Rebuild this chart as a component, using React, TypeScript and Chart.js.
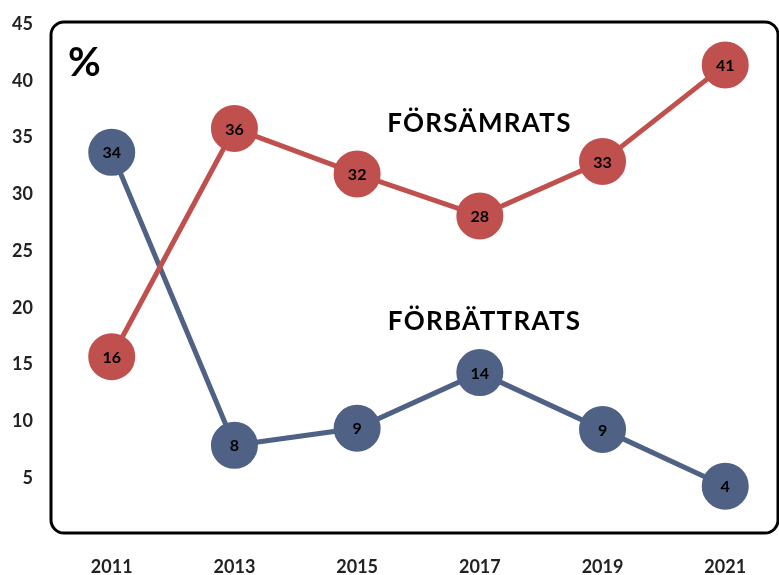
import React, { useEffect, useRef } from "react";
import { Chart, registerables } from "chart.js";

Chart.register(...registerables);

const categories = ["2011", "2013", "2015", "2017", "2019", "2021"];
const worsenedValues = [15.7, 35.8, 31.8, 28.1, 32.9, 41.4];
const improvedValues = [33.7, 7.9, 9.4, 14.3, 9.3, 4.3];
const yTickMin = 0;
const yTickMax = 45;
const yTickStep = 5;
const worsenedLabel = "FÖRSÄMRATS";
const improvedLabel = "FÖRBÄTTRATS";
const unitLabel = "%";

const RED = "#C0504D";
const BLUE = "#4F6184";
const FONT = "Lato, 'Open Sans', sans-serif";

export default function App() {
  const ref = useRef<HTMLCanvasElement>(null);

  useEffect(() => {
    document.body.style.margin = "0";
    const years = categories.map(Number);
    const boxPlugin = {
      id: "boxAndLabels",
      beforeDatasetsDraw(chart: any) {
        const { ctx, chartArea } = chart;
        const { left, top, right, bottom } = chartArea;
        ctx.save();
        ctx.strokeStyle = "#000";
        ctx.lineWidth = 3;
        ctx.beginPath();
        (ctx as any).roundRect(left, top - 2, right - left, bottom - top, 13);
        ctx.stroke();
        ctx.fillStyle = "#000";
        ctx.font = `bold 40px ${FONT}`;
        ctx.textBaseline = "middle";
        ctx.textAlign = "left";
        ctx.fillText(unitLabel, left + 17, top + 39);
        const xs = chart.scales.x;
        const ys = chart.scales.y;
        ctx.font = `bold 26px ${FONT}`;
        (ctx as any).letterSpacing = "1.3px";
        ctx.fillText(worsenedLabel, xs.getPixelForValue(2015.49), ys.getPixelForValue(36.2));
        ctx.fillText(improvedLabel, xs.getPixelForValue(2015.5), ys.getPixelForValue(18.8));
        ctx.restore();
      },
      afterDatasetsDraw(chart: any) {
        const { ctx } = chart;
        ctx.save();
        ctx.fillStyle = "#000";
        ctx.font = `bold 16px ${FONT}`;
        ctx.textAlign = "center";
        ctx.textBaseline = "middle";
        chart.data.datasets.forEach((ds: any, di: number) => {
          const meta = chart.getDatasetMeta(di);
          meta.data.forEach((pt: any, i: number) => {
            ctx.fillText(String(Math.round(ds.data[i].y)), pt.x, pt.y + 1);
          });
        });
        ctx.restore();
      },
    };

    const chart = new Chart(ref.current!, {
      type: "line",
      data: {
        datasets: [
          {
            label: worsenedLabel,
            data: years.map((x, i) => ({ x, y: worsenedValues[i] })),
            borderColor: RED,
            backgroundColor: RED,
            pointBackgroundColor: RED,
            pointBorderColor: RED,
            borderWidth: 5,
            pointRadius: 21,
            pointHoverRadius: 21,
          },
          {
            label: improvedLabel,
            data: years.map((x, i) => ({ x, y: improvedValues[i] })),
            borderColor: BLUE,
            backgroundColor: BLUE,
            pointBackgroundColor: BLUE,
            pointBorderColor: BLUE,
            borderWidth: 5,
            pointRadius: 21,
            pointHoverRadius: 21,
          },
        ],
      },
      options: {
        animation: false,
        responsive: false,
        layout: { autoPadding: false, padding: { top: 24, right: 1, left: 0, bottom: 0 } },
        plugins: { legend: { display: false }, tooltip: { enabled: false } },
        scales: {
          x: {
            type: "linear",
            min: 2010.01,
            max: 2021.86,
            grid: { display: false, drawTicks: false },
            border: { display: false },
            afterBuildTicks(scale: any) {
              scale.ticks = years.map((v) => ({ value: v }));
            },
            afterFit(scale: any) {
              scale.height = 40;
              scale.paddingLeft = 0;
              scale.paddingRight = 0;
            },
            ticks: {
              padding: 21,
              color: "#222",
              font: { family: FONT, size: 18, weight: "bold" },
              callback: (v: any) => String(v),
              maxRotation: 0,
              autoSkip: false,
            },
          },
          y: {
            min: yTickMin,
            max: yTickMax,
            grid: { display: false, drawTicks: false },
            border: { display: false },
            afterFit(scale: any) {
              scale.width = 51;
              scale.paddingTop = 0;
              scale.paddingBottom = 0;
            },
            ticks: {
              stepSize: yTickStep,
              padding: 18,
              color: "#222",
              font: { family: FONT, size: 18, weight: "bold" },
              callback: (v: any) => (v === 0 ? "" : String(v)),
            },
          },
        },
      },
      plugins: [boxPlugin],
    } as any);
    return () => chart.destroy();
  }, []);

  return <canvas ref={ref} width={779} height={575} style={{ display: "block" }} />;
}
